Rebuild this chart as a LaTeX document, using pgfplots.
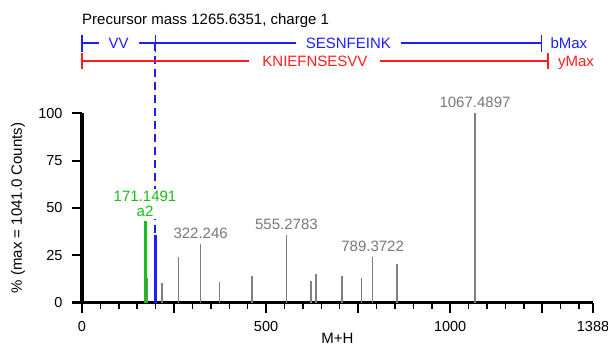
\documentclass[border=0pt]{standalone}
\usepackage{fontspec}
\setmainfont{Liberation Sans}
\usepackage{pgfplots}
\pgfplotsset{compat=1.18}
\definecolor{pkgrey}{RGB}{128,128,128}
\definecolor{lblgrey}{RGB}{120,120,120}
\definecolor{ionblue}{RGB}{30,30,255}
\definecolor{iongreen}{RGB}{25,190,25}
\definecolor{ionred}{RGB}{255,30,30}

\begin{document}
\begin{tikzpicture}[font=\fontsize{15bp}{15.5bp}\selectfont]
\begin{axis}[
  scale only axis,
  width=511bp, height=189.4bp,
  xmin=0, xmax=1388, ymin=0, ymax=100,
  axis x line=bottom, axis y line=left,
  axis line style={-, line width=3.3bp},
  every outer x axis line/.append style={-},
  every outer y axis line/.append style={-},
  xtick={0,250,500,750,1000,1250,1388},
  xticklabels={0,,500,,1000,,1388},
  minor xtick={50,100,...,1350},
  ytick={0,25,50,75,100},
  tick align=outside,
  major tick length=10bp, minor tick length=6bp,
  major tick style={black, line width=2bp},
  minor tick style={black, line width=1.5bp},
  tick label style={font=\fontsize{14.5bp}{16bp}\selectfont},
  xticklabel style={yshift=-5bp},
  yticklabel style={xshift=-6bp},
  /pgf/number format/assume math mode=true,
  xlabel={M+H},
  ylabel={\% (max = 1041.0 Counts)},
  xlabel style={at={(axis description cs:0.5,0)}, anchor=center, yshift=-35.5bp},
  ylabel style={at={(axis description cs:0,0.5)}, anchor=center, yshift=64bp},
  clip=false,
]
% spectrum peaks (m/z, % of max)
\addplot[ycomb, pkgrey, line width=1.6bp, mark=none] coordinates {
  (176,12.8) (216.5,10.2) (262,24) (322.246,31) (373,10.9) (461,14.2)
  (555.2783,35.6) (622,11.6) (635,14.9) (705.6,14.2) (759,12.8)
  (789.3722,24.2) (855,20.4) (1067.4897,100)
};
\addplot[ycomb, iongreen, line width=3bp, mark=none] coordinates {(171.1491,43.2)};
\addplot[ycomb, ionblue, line width=3bp, mark=none] coordinates {(199.14,35.5)};

% peak labels
\node[anchor=south, text=lblgrey, inner sep=2bp, yshift=3bp] at (axis cs:322.246,31) {322.246};
\node[anchor=south, text=lblgrey, inner sep=2bp, yshift=3bp] at (axis cs:555.2783,35.6) {555.2783};
\node[anchor=south, text=lblgrey, inner sep=2bp, yshift=3bp] at (axis cs:789.3722,24.2) {789.3722};
\node[anchor=south, text=lblgrey, inner sep=2bp, yshift=3bp] at (axis cs:1067.4897,100) {1067.4897};

% fragment ladders
\draw[ionblue, line width=2bp, dash pattern=on 8bp off 5bp] (axis cs:199.14,137) -- (axis cs:199.14,35.5);
\node[anchor=south, text=iongreen, fill=white, align=center, inner sep=2bp, yshift=2bp] at (axis cs:171.1491,43.2) {171.1491\\a2};

\draw[ionblue, line width=1.5bp] (axis cs:0,137) -- (axis cs:1247.62,137);
\draw[ionblue, line width=1.5bp] (axis cs:0,132.5) -- (axis cs:0,141.5);
\draw[ionblue, line width=1.5bp] (axis cs:199.14,132.5) -- (axis cs:199.14,141.5);
\draw[ionblue, line width=1.5bp] (axis cs:1247.62,132.5) -- (axis cs:1247.62,141.5);
\node[text=ionblue, fill=white, text depth=0pt, inner xsep=10bp, inner ysep=1bp] at (axis cs:99.57,137) {VV};
\node[text=ionblue, fill=white, text depth=0pt, inner xsep=10bp, inner ysep=1bp] at (axis cs:723.4,137) {SESNFEINK};
\node[text=ionblue, anchor=west, text depth=0pt, inner sep=0pt, xshift=9bp] at (axis cs:1247.62,137) {bMax};

\draw[ionred, line width=1.5bp] (axis cs:0,127.6) -- (axis cs:1265.64,127.6);
\draw[ionred, line width=1.5bp] (axis cs:0,123.3) -- (axis cs:0,131.9);
\draw[ionred, line width=1.5bp] (axis cs:1265.64,123.3) -- (axis cs:1265.64,131.9);
\node[text=ionred, fill=white, text depth=0pt, inner xsep=13bp, inner ysep=1bp] at (axis cs:632.8,127.6) {KNIEFNSESVV};
\node[text=ionred, anchor=west, text depth=0pt, inner sep=0pt, xshift=10bp] at (axis cs:1265.64,127.6) {yMax};

\node[anchor=base west, inner sep=0pt] at (axis cs:0,147.1) {Precursor mass 1265.6351, charge 1};
\draw[line width=3.3bp] (axis cs:-27,0) -- (axis cs:0,0);
\end{axis}
\pgfresetboundingbox
\path[use as bounding box] ([shift={(-82bp,-44.3bp)}]current axis.south west) rectangle ([shift={(526bp,302.7bp)}]current axis.south west);
\end{tikzpicture}
\end{document}
